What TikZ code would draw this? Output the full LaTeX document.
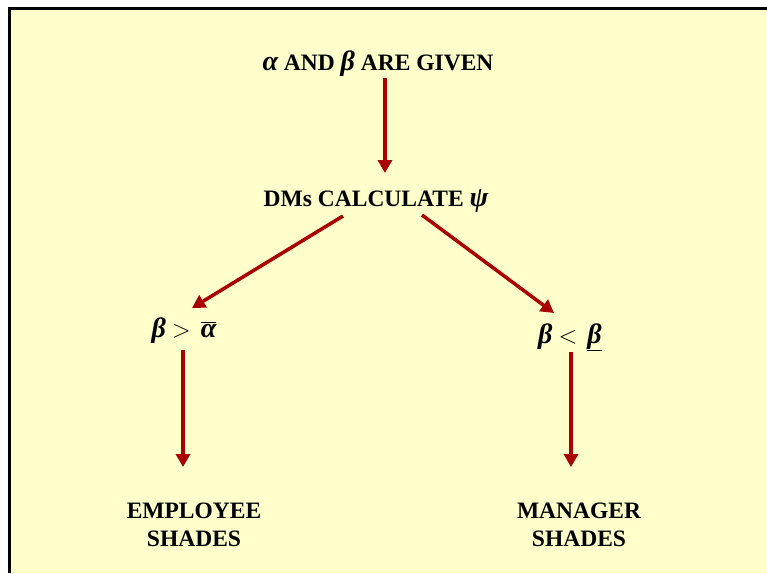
\documentclass[tikz,border=0pt]{standalone}
\usepackage{fontspec}
\setmainfont{Liberation Serif}
\usetikzlibrary{arrows.meta}
\definecolor{bgyellow}{RGB}{255,255,204}
\definecolor{arrred}{RGB}{170,0,0}
\newcommand{\gk}[1]{{\fontsize{28}{28}\selectfont\bfseries\itshape #1}}
\newcommand{\rel}[1]{{\fontsize{27}{28}\selectfont$#1$}}
\tikzset{
  lbl/.style={font=\fontsize{23.5}{28}\selectfont\bfseries, inner sep=0pt, align=center},
  arr/.style={draw=arrred, line width=3.5pt, -{Triangle[length=13pt,width=14pt]}}
}
\begin{document}
\begin{tikzpicture}[x=1pt,y=1pt]
\useasboundingbox (0,0) rectangle (767,-573);
\fill[white] (0,0) rectangle (767,-573);
\fill[bgyellow] (9.5,-8.5) rectangle (767,-573);
\draw[black, line width=3pt] (9.5,-573) -- (9.5,-8.5) -- (767,-8.5);

\node[lbl, anchor=base] (given) at (378,-70) {\gk{α} AND \gk{β} ARE GIVEN};
\node[lbl, anchor=base] (calc) at (376,-206) {DMs CALCULATE \gk{ψ}};
\node[lbl, anchor=base] (left) at (184,-337) {\gk{β}\hspace{6pt}\rel{>}\hspace{10pt}{\fontsize{27}{28}\selectfont$\overline{\hbox{\gk{α}}}$}};
\node[lbl, anchor=base] (right) at (570,-343) {\gk{β}\hspace{6pt}\rel{<}\hspace{10pt}{\fontsize{27}{28}\selectfont$\underline{\hbox{\gk{β}}}$}};
\node[lbl] (emp) at (194,-525) {EMPLOYEE\\SHADES};
\node[lbl] (man) at (579,-525) {MANAGER\\SHADES};

\coordinate (a1s) at (385,-78);
\coordinate (a1e) at (385,-173);
\coordinate (a2s) at (343,-216);
\coordinate (a2e) at (192,-308);
\coordinate (a3s) at (422,-215);
\coordinate (a3e) at (554,-313);
\coordinate (a4s) at (183,-350);
\coordinate (a4e) at (183,-467);
\coordinate (a5s) at (571,-352);
\coordinate (a5e) at (571,-467);

\draw[arr] (a1s) -- (a1e);
\draw[arr] (a2s) -- (a2e);
\draw[arr] (a3s) -- (a3e);
\draw[arr] (a4s) -- (a4e);
\draw[arr] (a5s) -- (a5e);
\end{tikzpicture}
\end{document}
